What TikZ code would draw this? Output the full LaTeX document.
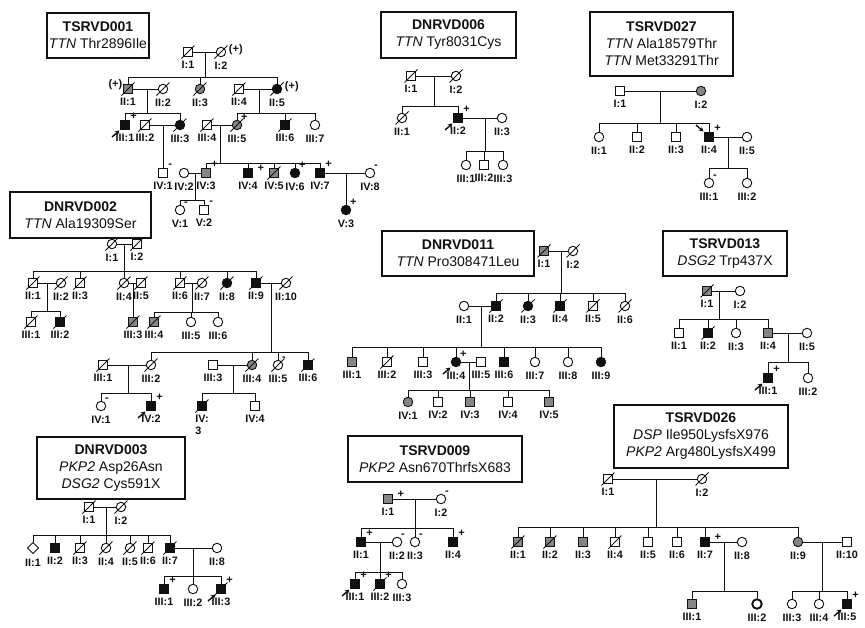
\documentclass[tikz,border=0pt]{standalone}
\usepackage{fontspec}
\setmainfont{Liberation Sans}
\usetikzlibrary{arrows.meta, shapes.geometric}
\definecolor{ink}{HTML}{111111}
\definecolor{carrier}{HTML}{858585}
\tikzset{
  symbase/.style={draw=ink, line width=0.9pt, fill=white, inner sep=0pt},
  male/.style={symbase, rectangle, minimum size=9pt},
  female/.style={symbase, circle, minimum size=9.5pt},
  unknown/.style={symbase, diamond, minimum size=11.5pt},
  aff/.style={fill=ink},
  gry/.style={fill=carrier},
  obl/.style={line width=1.9pt},
  labtext/.style={font=\bfseries\fontsize{10.8}{12}\selectfont, inner sep=1pt, text=ink},
  lab/.style={label={[labtext, label distance=3pt]below:#1}},
  signtext/.style={font=\bfseries\fontsize{11}{12}\selectfont, inner sep=0.3pt, text=ink},
  vplus/.style={label={[signtext, label distance=-0.5pt]north east:+}},
  vplusfar/.style={label={[signtext, label distance=4pt, yshift=5pt]right:+}},
  vminus/.style={label={[signtext, label distance=-0.5pt]north east:-}},
  oplusl/.style={label={[signtext, label distance=0pt, yshift=4pt]left:(+)}},
  oplusr/.style={label={[signtext, label distance=2pt, yshift=2pt]right:(+)}},
  famhead/.style 2 args={draw=ink, line width=1.2pt, fill=white, align=center,
                         font=\fontsize{14}{17}\selectfont, text=ink, inner sep=0pt,
                         minimum width=#1pt, minimum height=#2pt},
  deadline/.style={draw=ink, line width=0.9pt},
  probarrow/.style={-{Stealth[length=4.5pt, width=5pt]}, draw=ink, line width=1.4pt},
}
\newcommand{\famid}[1]{{\bfseries #1}}
% #1 = bar name, #2 = bar position, #3 = a parent, #4 = children
\newcommand{\sibship}[4]{%
  \coordinate (#1) at #2;
  \draw (#1) -- (#1 |- #3);
  \foreach \kid in {#4} \draw (\kid.north) |- (#1);
}
\newcommand{\deceased}[1]{%
  \foreach \who in {#1}
    \draw[deadline] ([shift={(-6.5pt,-6.5pt)}]\who.center) -- ([shift={(6.5pt,6.5pt)}]\who.center);
}
\newcommand{\proband}[1]{\draw[probarrow] ([shift={(-13pt,-12pt)}]#1.center) -- ([shift={(-5.5pt,-5.5pt)}]#1.center);}
\newcommand{\probandnw}[1]{\draw[probarrow] ([shift={(-13pt,12pt)}]#1.center) -- ([shift={(-5.5pt,5.5pt)}]#1.center);}

\begin{document}
\begin{tikzpicture}[x=1pt, y=-1pt, line width=0.9pt, draw=ink]
\useasboundingbox (0,0) rectangle (865,627);

% ---------------- TSRVD001 ----------------
\node[famhead={102}{45}] (t001) at (98,35.5) {\famid{TSRVD001}\\\textit{TTN} Thr2896Ile};
\node[male, lab=I:1] (t001-I1) at (188,52) {};
\node[female, oplusr, lab=I:2] (t001-I2) at (221,52) {};
\draw (t001-I1) -- (t001-I2);
\node[male, gry, oplusl, lab=II:1] (t001-II1) at (128,89) {};
\node[female, lab=II:2] (t001-II2) at (163,89) {};
\node[female, gry, lab=II:3] (t001-II3) at (200,89) {};
\node[male, lab=II:4] (t001-II4) at (239,89) {};
\node[female, aff, oplusr, lab=II:5] (t001-II5) at (277,89) {};
\sibship{t001-s1}{(205,77)}{t001-I1}{t001-II1,t001-II3,t001-II5}
\draw (t001-II1) -- (t001-II2);
\draw (t001-II4) -- (t001-II5);
\node[male, aff, vplus, lab=III:1] (t001-III1) at (125,125) {};
\node[male, lab=III:2] (t001-III2) at (145,125) {};
\node[female, aff, lab=III:3] (t001-III3) at (180,125) {};
\node[male, lab=III:4] (t001-III4) at (207,125) {};
\node[female, gry, vplus, lab=III:5] (t001-III5) at (237,125) {};
\node[male, aff, lab=III:6] (t001-III6) at (285,125) {};
\node[female, lab=III:7] (t001-III7) at (315,125) {};
\sibship{t001-s2}{(147,113)}{t001-II1}{t001-III1,t001-III3}
\sibship{t001-s3}{(259,113)}{t001-II4}{t001-III5,t001-III6,t001-III7}
\draw (t001-III2) -- (t001-III3);
\draw (t001-III4) -- (t001-III5);
\node[male, vminus, lab=IV:1] (t001-IV1) at (163,173) {};
\node[female, lab=IV:2] (t001-IV2) at (184,173) {};
\node[male, gry, vplus, lab=IV:3] (t001-IV3) at (206,173) {};
\node[male, aff, vplusfar, lab=IV:4] (t001-IV4) at (248,173) {};
\node[male, gry, lab=IV:5] (t001-IV5) at (274,173) {};
\node[female, aff, vplus, lab=IV:6] (t001-IV6) at (295,173) {};
\node[male, aff, vplus, lab=IV:7] (t001-IV7) at (320,173) {};
\node[female, vminus, lab=IV:8] (t001-IV8) at (370,173) {};
\sibship{t001-s4}{(163,150)}{t001-III2}{t001-IV1}
\sibship{t001-s5}{(220,163)}{t001-III4}{t001-IV3,t001-IV4,t001-IV5,t001-IV6,t001-IV7}
\draw (t001-IV2) -- (t001-IV3);
\draw (t001-IV7) -- (t001-IV8);
\node[female, vminus, lab=V:1] (t001-V1) at (180,210) {};
\node[male, vminus, lab=V:2] (t001-V2) at (204,210) {};
\node[female, aff, vplus, lab=V:3] (t001-V3) at (346,210) {};
\sibship{t001-s6}{(195,200)}{t001-IV2}{t001-V1,t001-V2}
\sibship{t001-s7}{(346,190)}{t001-IV7}{t001-V3}
\deceased{t001-I1,t001-I2,t001-II1,t001-II2,t001-II3,t001-II4,t001-II5,t001-III2,t001-III3,t001-III4,t001-III5,t001-III6,t001-IV5}
\proband{t001-III1}

% ---------------- DNRVD006 ----------------
\node[famhead={135}{46}] (d006) at (448.5,35) {\famid{DNRVD006}\\\textit{TTN} Tyr8031Cys};
\node[male, lab=I:1] (d006-I1) at (411,76) {};
\node[female, lab=I:2] (d006-I2) at (456,76) {};
\draw (d006-I1) -- (d006-I2);
\node[female, lab=II:1] (d006-II1) at (402,118) {};
\node[male, aff, vplus, lab=II:2] (d006-II2) at (458,118) {};
\node[female, lab=II:3] (d006-II3) at (502,118) {};
\sibship{d006-s1}{(434,106)}{d006-I1}{d006-II1,d006-II2}
\draw (d006-II2) -- (d006-II3);
\node[female, lab=III:1] (d006-III1) at (466,165) {};
\node[male, lab=III:2] (d006-III2) at (484,165) {};
\node[female, lab=III:3] (d006-III3) at (503,165) {};
\sibship{d006-s2}{(485,151)}{d006-II2}{d006-III1,d006-III2,d006-III3}
\deceased{d006-I1,d006-I2,d006-II1}
\proband{d006-II2}

% ---------------- TSRVD027 ----------------
\node[famhead={143}{64}] (t027) at (661.5,44) {\famid{TSRVD027}\\\textit{TTN} Ala18579Thr\\\textit{TTN} Met33291Thr};
\node[male, lab=I:1] (t027-I1) at (620,91) {};
\node[female, gry, lab=I:2] (t027-I2) at (701,91) {};
\draw (t027-I1) -- (t027-I2);
\node[female, lab=II:1] (t027-II1) at (599,137) {};
\node[male, lab=II:2] (t027-II2) at (637,137) {};
\node[male, lab=II:3] (t027-II3) at (676,137) {};
\node[male, aff, vplus, lab=II:4] (t027-II4) at (709,137) {};
\node[female, lab=II:5] (t027-II5) at (747,137) {};
\sibship{t027-s1}{(660,123)}{t027-I1}{t027-II1,t027-II2,t027-II3,t027-II4}
\draw (t027-II4) -- (t027-II5);
\node[female, vminus, lab=III:1] (t027-III1) at (709,183) {};
\node[female, lab=III:2] (t027-III2) at (747,183) {};
\sibship{t027-s2}{(728,168)}{t027-II4}{t027-III1,t027-III2}
\probandnw{t027-II4}

% ---------------- DNRVD002 ----------------
\node[famhead={141}{46}] (d002) at (80.5,215) {\famid{DNRVD002}\\\textit{TTN} Ala19309Ser};
\node[female, lab=I:1] (d002-I1) at (112,244) {};
\node[male, lab=I:2] (d002-I2) at (137,244) {};
\draw (d002-I1) -- (d002-I2);
\node[male, lab=II:1] (d002-II1) at (33,283) {};
\node[female, lab=II:2] (d002-II2) at (61,283) {};
\node[male, lab=II:3] (d002-II3) at (80,283) {};
\node[female, lab=II:4] (d002-II4) at (124,283) {};
\node[male, lab=II:5] (d002-II5) at (141,283) {};
\node[male, lab=II:6] (d002-II6) at (180,283) {};
\node[female, lab=II:7] (d002-II7) at (202,283) {};
\node[female, aff, lab=II:8] (d002-II8) at (227,283) {};
\node[male, aff, lab=II:9] (d002-II9) at (256,283) {};
\node[female, lab=II:10] (d002-II10) at (286,283) {};
\sibship{d002-s1}{(124,271)}{d002-I1}{d002-II1,d002-II3,d002-II4,d002-II6,d002-II8,d002-II9}
\draw (d002-II1) -- (d002-II2);
\draw (d002-II4) -- (d002-II5);
\draw (d002-II6) -- (d002-II7);
\draw (d002-II9) -- (d002-II10);
\node[male, lab=III:1] (d002-III1) at (31,322) {};
\node[male, aff, lab=III:2] (d002-III2) at (60,322) {};
\node[male, gry, lab=III:3] (d002-III3) at (133,322) {};
\node[male, gry, lab=III:4] (d002-III4) at (154,322) {};
\node[female, lab=III:5] (d002-III5) at (191,322) {};
\node[female, lab=III:6] (d002-III6) at (218,322) {};
\sibship{d002-s2}{(47,311)}{d002-II1}{d002-III1,d002-III2}
\sibship{d002-s3}{(133,305)}{d002-II4}{d002-III3}
\sibship{d002-s4}{(192,312)}{d002-II6}{d002-III4,d002-III5,d002-III6}
\node[male, lab=III:1] (d002-IIIb1) at (103,365) {};
\node[female, lab=III:2] (d002-IIIb2) at (151,365) {};
\node[male, lab=III:3] (d002-IIIb3) at (213,365) {};
\node[female, gry, lab=III:4] (d002-IIIb4) at (252,365) {};
\node[female, vminus, lab=III:5] (d002-IIIb5) at (278,365) {};
\node[male, aff, lab=III:6] (d002-IIIb6) at (308,365) {};
\sibship{d002-s5}{(271,352)}{d002-II9}{d002-IIIb2,d002-IIIb4,d002-IIIb5,d002-IIIb6}
\draw (d002-IIIb1) -- (d002-IIIb2);
\draw (d002-IIIb3) -- (d002-IIIb4);
\node[female, vminus, lab=IV:1] (d002-IV1) at (101,406) {};
\node[male, aff, vplus, lab=IV:2] (d002-IV2) at (151,406) {};
\node[male, aff, label={[labtext, align=left, label distance=3pt]below:{IV:\\3}}] (d002-IV3) at (202,406) {};
\node[male, lab=IV:4] (d002-IV4) at (255,406) {};
\sibship{d002-s6}{(128,393)}{d002-IIIb1}{d002-IV1,d002-IV2}
\sibship{d002-s7}{(233,393)}{d002-IIIb3}{d002-IV3,d002-IV4}
\deceased{d002-I1,d002-I2,d002-II1,d002-II2,d002-II3,d002-II4,d002-II5,d002-II6,d002-II7,d002-II8,d002-II9,d002-II10,d002-III1,d002-III2,d002-III3,d002-III4,d002-IIIb1,d002-IIIb2,d002-IIIb4,d002-IIIb5,d002-IIIb6,d002-IV3}
\proband{d002-IV2}

% ---------------- DNRVD011 ----------------
\node[famhead={152}{45}] (d011) at (458,253.5) {\famid{DNRVD011}\\\textit{TTN} Pro308471Leu};
\node[male, gry, lab=I:1] (d011-I1) at (544,251) {};
\node[female, lab=I:2] (d011-I2) at (573,251) {};
\draw (d011-I1) -- (d011-I2);
\node[female, lab=II:1] (d011-II1) at (464,306) {};
\node[male, aff, lab=II:2] (d011-II2) at (496,306) {};
\node[female, aff, lab=II:3] (d011-II3) at (528,306) {};
\node[male, aff, lab=II:4] (d011-II4) at (560,306) {};
\node[male, lab=II:5] (d011-II5) at (593,306) {};
\node[female, lab=II:6] (d011-II6) at (625,306) {};
\sibship{d011-s1}{(561,293)}{d011-I1}{d011-II2,d011-II3,d011-II4,d011-II5,d011-II6}
\draw (d011-II1) -- (d011-II2);
\node[male, gry, lab=III:1] (d011-III1) at (352,362) {};
\node[male, lab=III:2] (d011-III2) at (387,362) {};
\node[male, lab=III:3] (d011-III3) at (423,362) {};
\node[female, aff, vplus, lab=III:4] (d011-III4) at (456,362) {};
\node[male, lab=III:5] (d011-III5) at (481,362) {};
\node[male, aff, lab=III:6] (d011-III6) at (504,362) {};
\node[female, lab=III:7] (d011-III7) at (535,362) {};
\node[female, lab=III:8] (d011-III8) at (568,362) {};
\node[female, aff, lab=III:9] (d011-III9) at (601,362) {};
\sibship{d011-s2}{(481,347)}{d011-II1}{d011-III1,d011-III2,d011-III3,d011-III4,d011-III6,d011-III7,d011-III8,d011-III9}
\draw (d011-III4) -- (d011-III5);
\node[female, gry, lab=IV:1] (d011-IV1) at (408,402) {};
\node[male, lab=IV:2] (d011-IV2) at (438,402) {};
\node[male, gry, lab=IV:3] (d011-IV3) at (470,402) {};
\node[male, lab=IV:4] (d011-IV4) at (508,402) {};
\node[male, gry, lab=IV:5] (d011-IV5) at (549,402) {};
\sibship{d011-s3}{(469,390)}{d011-III4}{d011-IV1,d011-IV2,d011-IV3,d011-IV4,d011-IV5}
\deceased{d011-I1,d011-I2,d011-II2,d011-II3,d011-II4,d011-II5,d011-II6,d011-III2}
\proband{d011-III4}

% ---------------- TSRVD013 ----------------
\node[famhead={124}{45}] (t013) at (725,253.5) {\famid{TSRVD013}\\\textit{DSG2} Trp437X};
\node[male, gry, lab=I:1] (t013-I1) at (707,291) {};
\node[female, lab=I:2] (t013-I2) at (740,291) {};
\draw (t013-I1) -- (t013-I2);
\node[male, lab=II:1] (t013-II1) at (679,333) {};
\node[male, aff, lab=II:2] (t013-II2) at (708,333) {};
\node[female, lab=II:3] (t013-II3) at (736,333) {};
\node[male, gry, lab=II:4] (t013-II4) at (768,333) {};
\node[female, lab=II:5] (t013-II5) at (807,333) {};
\sibship{t013-s1}{(719,319)}{t013-I1}{t013-II1,t013-II2,t013-II3,t013-II4}
\draw (t013-II4) -- (t013-II5);
\node[male, aff, vplus, lab=III:1] (t013-III1) at (768,378) {};
\node[female, lab=III:2] (t013-III2) at (808,378) {};
\sibship{t013-s2}{(788,362)}{t013-II4}{t013-III1,t013-III2}
\deceased{t013-I1,t013-II2}
\proband{t013-III1}

% ---------------- DNRVD003 ----------------
\node[famhead={148}{62}] (d003) at (111,468) {\famid{DNRVD003}\\\textit{PKP2} Asp26Asn\\\textit{DSG2} Cys591X};
\node[male, lab=I:1] (d003-I1) at (89,507) {};
\node[female, lab=I:2] (d003-I2) at (121,507) {};
\draw (d003-I1) -- (d003-I2);
\node[unknown, lab=II:1] (d003-II1) at (33,548) {};
\node[male, aff, lab=II:2] (d003-II2) at (55,548) {};
\node[male, lab=II:3] (d003-II3) at (80,548) {};
\node[female, lab=II:4] (d003-II4) at (106,548) {};
\node[female, lab=II:5] (d003-II5) at (130,548) {};
\node[male, lab=II:6] (d003-II6) at (148,548) {};
\node[male, aff, lab=II:7] (d003-II7) at (170,548) {};
\node[female, lab=II:8] (d003-II8) at (217,548) {};
\sibship{d003-s1}{(106,535)}{d003-I1}{d003-II1,d003-II2,d003-II3,d003-II4,d003-II5,d003-II6,d003-II7}
\draw (d003-II7) -- (d003-II8);
\node[male, aff, vplus, lab=III:1] (d003-III1) at (164,589) {};
\node[female, lab=III:2] (d003-III2) at (193,589) {};
\node[male, aff, vplus, lab=III:3] (d003-III3) at (221,589) {};
\sibship{d003-s2}{(193,576)}{d003-II7}{d003-III1,d003-III2,d003-III3}
\deceased{d003-I1,d003-I2,d003-II3,d003-II4,d003-II5,d003-II6,d003-II7,d003-III3}
\proband{d003-III3}

% ---------------- TSRVD009 ----------------
\node[famhead={174}{46}] (t009) at (435,459) {\famid{TSRVD009}\\\textit{PKP2} Asn670ThrfsX683};
\node[male, gry, vplusfar, lab=I:1] (t009-I1) at (388,499) {};
\node[female, vminus, lab=I:2] (t009-I2) at (441,499) {};
\draw (t009-I1) -- (t009-I2);
\node[male, aff, vplus, lab=II:1] (t009-II1) at (361,542) {};
\node[female, vminus, lab=II:2] (t009-II2) at (397,542) {};
\node[female, vminus, lab=II:3] (t009-II3) at (415,542) {};
\node[male, aff, vplus, lab=II:4] (t009-II4) at (453,542) {};
\sibship{t009-s1}{(415,528)}{t009-I1}{t009-II1,t009-II3,t009-II4}
\draw (t009-II1) -- (t009-II2);
\node[male, aff, vplus, lab=III:1] (t009-III1) at (355,584) {};
\node[male, aff, vplus, lab=III:2] (t009-III2) at (380,584) {};
\node[female, lab=III:3] (t009-III3) at (402,584) {};
\sibship{t009-s2}{(380,572)}{t009-II1}{t009-III1,t009-III2,t009-III3}
\deceased{t009-III2}
\proband{t009-III1}

% ---------------- TSRVD026 ----------------
\node[famhead={174}{63}] (t026) at (701,436.5) {\famid{TSRVD026}\\\textit{DSP} Ile950LysfsX976\\\textit{PKP2} Arg480LysfsX499};
\node[male, lab=I:1] (t026-I1) at (608,479) {};
\node[female, lab=I:2] (t026-I2) at (702,479) {};
\draw (t026-I1) -- (t026-I2);
\node[male, gry, lab=II:1] (t026-II1) at (518,542) {};
\node[male, gry, lab=II:2] (t026-II2) at (550,542) {};
\node[male, gry, lab=II:3] (t026-II3) at (583,542) {};
\node[male, lab=II:4] (t026-II4) at (615,542) {};
\node[male, lab=II:5] (t026-II5) at (648,542) {};
\node[male, lab=II:6] (t026-II6) at (677,542) {};
\node[male, aff, vplusfar, lab=II:7] (t026-II7) at (705,542) {};
\node[female, lab=II:8] (t026-II8) at (742,542) {};
\node[female, gry, lab=II:9] (t026-II9) at (798,542) {};
\node[male, lab=II:10] (t026-II10) at (847,542) {};
\sibship{t026-s1}{(656,527)}{t026-I1}{t026-II1,t026-II2,t026-II3,t026-II4,t026-II5,t026-II6,t026-II7,t026-II9}
\draw (t026-II7) -- (t026-II8);
\draw (t026-II9) -- (t026-II10);
\node[male, gry, lab=III:1] (t026-III1) at (692,604) {};
\node[female, obl, lab=III:2] (t026-III2) at (757,604) {};
\node[female, lab=III:3] (t026-III3) at (792,604) {};
\node[female, lab=III:4] (t026-III4) at (819,604) {};
\node[male, aff, vplus, lab=III:5] (t026-III5) at (847,604) {};
\sibship{t026-s2}{(724,591)}{t026-II7}{t026-III1,t026-III2}
\sibship{t026-s3}{(822,591)}{t026-II9}{t026-III3,t026-III4,t026-III5}
\deceased{t026-I1,t026-I2,t026-II1,t026-II2,t026-II4}
\proband{t026-III5}

\end{tikzpicture}
\end{document}
